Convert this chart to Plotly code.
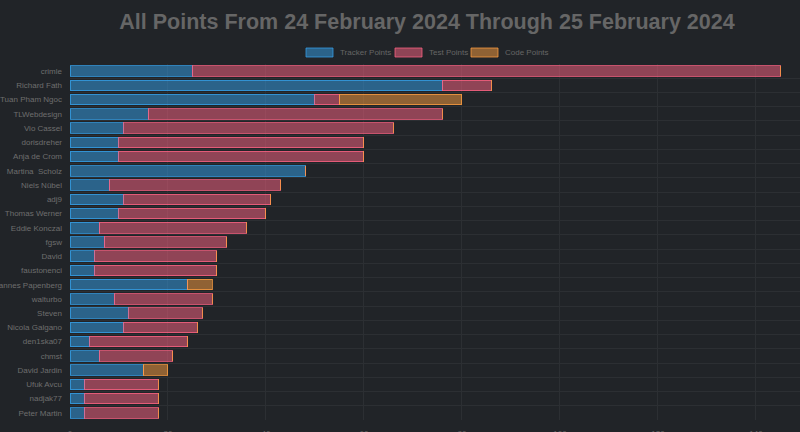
import plotly.graph_objects as go

# contributors, top to bottom
names = ["crimle", "Richard Fath", "Tuan Pham Ngoc", "TLWebdesign", "Vio Cassel",
         "dorisdreher", "Anja de Crom", "Martina  Scholz", "Niels Nübel", "adj9",
         "Thomas Werner", "Eddie Konczal", "fgsw", "David", "faustonenci",
         "Johannes Papenberg", "walturbo", "Steven", "Nicola Galgano", "den1ska07",
         "chmst", "David Jardin", "Ufuk Avcu", "nadjak77", "Peter Martin"]
tracker_points = [25, 76, 50, 16, 11, 10, 10, 48, 8, 11,
                  10, 6, 7, 5, 5, 24, 9, 12, 11, 4,
                  6, 15, 3, 3, 3]
test_points = [120, 10, 5, 60, 55, 50, 50, 0, 35, 30,
               30, 30, 25, 25, 25, 0, 20, 15, 15, 20,
               15, 0, 15, 15, 15]
code_points = [0, 0, 25, 0, 0, 0, 0, 0, 0, 0,
               0, 0, 0, 0, 0, 5, 0, 0, 0, 0,
               0, 5, 0, 0, 0]

series = [
    ("Tracker Points", tracker_points, "rgba(54,162,235,0.5)", "rgba(54,162,235,0.75)"),
    ("Test Points", test_points, "rgba(255,99,132,0.5)", "rgba(255,99,132,0.75)"),
    ("Code Points", code_points, "rgba(255,159,64,0.5)", "rgba(255,159,64,0.75)"),
]

bg = "#212428"
W, H = 800, 432
L, R, T, B = 70, 0, 64, 12

fig = go.Figure()
for name, vals, fill, border in series:
    fig.add_trace(go.Bar(
        y=names, x=vals, name=name, orientation="h",
        marker=dict(color=fill, line=dict(color=border, width=1)),
        showlegend=False,
    ))


# legend drawn by hand (wide chart.js style boxes)
def px_x(p):
    return (p - L) / (W - L - R)


def px_y(p):
    return 1 + (T - p) / (H - T - B)


legend_items = [(306, 338), (395, 427), (471, 503)]
for (box_x, text_x), (name, vals, fill, border) in zip(legend_items, series):
    fig.add_shape(type="rect", xref="paper", yref="paper",
                  x0=px_x(box_x), x1=px_x(box_x + 27), y0=px_y(57), y1=px_y(48),
                  fillcolor=fill, line=dict(color=border, width=1))
    fig.add_annotation(xref="paper", yref="paper", x=px_x(text_x), y=px_y(52.5),
                       text=name, showarrow=False, xanchor="left", yanchor="middle",
                       font=dict(size=8, color="#666666"))

fig.update_layout(
    barmode="stack",
    bargap=0.26,
    width=W, height=H,
    margin=dict(l=L, r=R, t=T, b=B, autoexpand=False),
    paper_bgcolor=bg, plot_bgcolor=bg,
    font=dict(family="Liberation Sans, Arial, sans-serif", color="#666666"),
    title=dict(text="<b>All Points From 24 February 2024 Through 25 February 2024</b>",
               xref="container", x=427 / W, xanchor="center",
               yref="container", y=1 - 21 / H, yanchor="middle",
               font=dict(size=21.5, color="#666666")),
    xaxis=dict(range=[0, 149], dtick=20, showgrid=True, gridcolor="#2c2f33",
               zeroline=False, showline=False, ticks="", ticklabelstandoff=7,
               tickfont=dict(size=8, color="#666666"), automargin=False),
    yaxis=dict(autorange="reversed", tickson="boundaries", showgrid=True,
               gridcolor="#2c2f33", ticks="", ticklen=0, ticklabelstandoff=7,
               tickfont=dict(size=8, color="#6e6e6e"), automargin=False),
)

fig.write_html("out.html", config={"displayModeBar": False},
               post_script="document.body.style.margin='0';document.body.style.overflow='hidden';"
                           f"document.body.style.background='{bg}';")
